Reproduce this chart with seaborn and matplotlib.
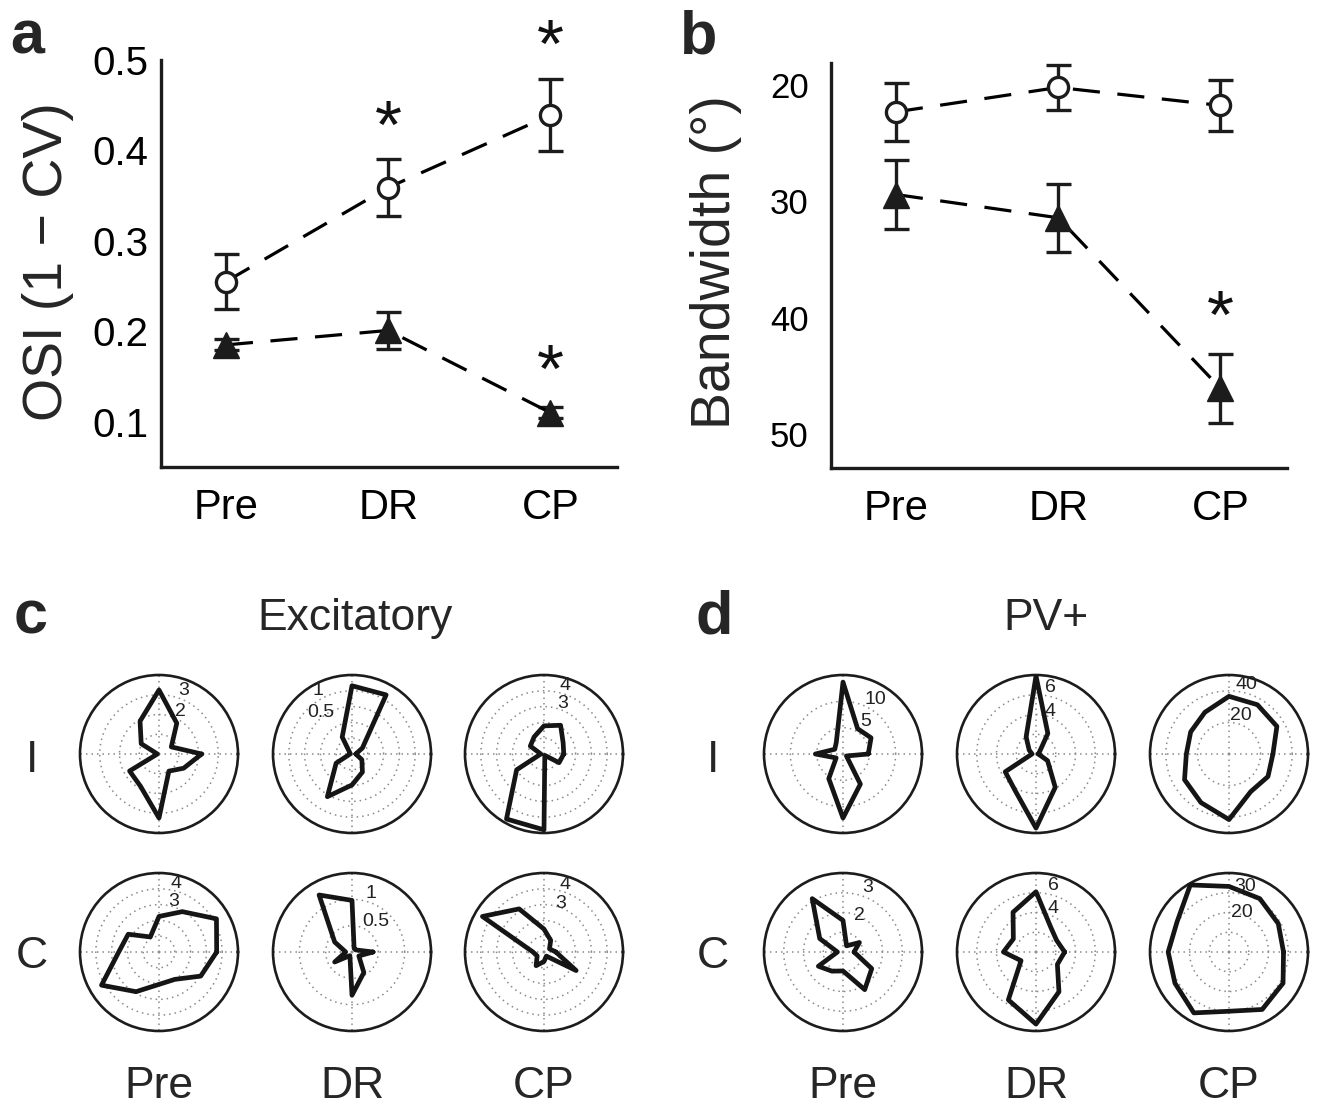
import numpy as np
import matplotlib
matplotlib.use('Agg')
import matplotlib.pyplot as plt
import seaborn as sns

# ---------------- data ----------------
conditions = ['Pre', 'DR', 'CP']

osi_open = [0.255, 0.359, 0.439]
osi_open_err = [0.030, 0.031, 0.040]
osi_filled = [0.185, 0.201, 0.110]
osi_filled_err = [0.006, 0.020, 0.006]
osi_ticks = [0.1, 0.2, 0.3, 0.4, 0.5]

bw_open = [22.3, 20.2, 21.75]
bw_open_err = [2.5, 1.9, 2.15]
bw_filled = [29.4, 31.4, 46.05]
bw_filled_err = [3.0, 2.9, 2.95]
bw_ticks = [20, 25, 30, 35, 40, 45, 50]
bw_tick_labels = ['20', '', '30', '', '40', '', '50']

# significance marks: (condition index, value)
osi_stars = [(1, 0.441), (2, 0.530), (2, 0.171)]
bw_stars = [(2, 38.8)]

directions_deg = [0, 30, 60, 90, 120, 150, 180, 210, 240, 270, 300, 330]

exc_pre_I = [2.16, 0.72, 1.8, 3.24, 1.92, 1.04, 0.08, 1.72, 1.88, 3.24, 1.0, 1.44]
exc_dr_I = [0.06, 0.19, 1.08, 1.08, 0.31, 0.04, 0.03, 0.29, 0.78, 0.49, 0.33, 0.18]
exc_cp_I = [1.25, 1.4, 2.1, 1.78, 1.25, 1.0, 0.2, 2.0, 4.75, 4.8, 0.1, 1.1]
exc_pre_C = [3.65, 4.2, 2.95, 2.25, 1.1, 2.25, 2.55, 4.2, 2.9, 2.05, 2.0, 3.05]
exc_dr_C = [0.4, 0.08, 0.08, 0.98, 1.25, 0.38, 0.12, 0.38, 0.08, 0.82, 0.45, 0.15]
exc_cp_C = [0.75, 0.4, 0.85, 1.45, 3.15, 4.5, 0.7, 0.5, 1.0, 0.6, 0.3, 2.35]

pv_pre_I = [4.8, 6.15, 5.55, 13.65, 2.55, 1.8, 5.25, 1.5, 5.4, 12.15, 6.6, 0.75]
pv_dr_I = [0.24, 0.4, 2.4, 7.9, 2.0, 0.8, 0.4, 3.6, 4.25, 7.5, 3.9, 1.35]
pv_cp_I = [27.8, 35, 36, 36.5, 30.5, 28, 27, 32.5, 35.5, 41.5, 27.5, 28.5]
pv_pre_C = [0.56, 0.96, 0.36, 1.6, 3.12, 1.36, 0.28, 1.44, 1.12, 0.96, 2.2, 1.68]
pv_dr_C = [2.9, 2.4, 2.95, 6.1, 4.65, 2.65, 3.3, 1.75, 5.6, 7.3, 4.65, 2.5]
pv_cp_C = [27.6, 28.8, 31.2, 33.2, 39.2, 30.4, 30.8, 31.6, 35.6, 30, 33.6, 31.6]

# radial scales: (rmax, ring values, labelled rings)
exc_pre_I_scale = (4, [1, 2, 3], ['3', '2'])
exc_dr_I_scale = (1.25, [0.25, 0.5, 0.75, 1.0], ['1', '0.5'])
exc_cp_I_scale = (5, [1, 2, 3, 4], ['4', '3'])
exc_pre_C_scale = (5, [1, 2, 3, 4], ['4', '3'])
exc_dr_C_scale = (1.5, [0.5, 1.0], ['1', '0.5'])
exc_cp_C_scale = (5, [1, 2, 3, 4], ['4', '3'])
pv_pre_I_scale = (15, [5, 10], ['10', '5'])
pv_dr_I_scale = (8, [2, 4, 6], ['6', '4'])
pv_cp_I_scale = (50, [20, 40], ['40', '20'])
pv_pre_C_scale = (4, [1, 2, 3], ['3', '2'])
pv_dr_C_scale = (8, [2, 4, 6], ['6', '4'])
pv_cp_C_scale = (40, [10, 20, 30], ['30', '20'])

# ---------------- style ----------------
sns.set_theme(style='white')
plt.rcParams['font.family'] = ['Liberation Sans', 'DejaVu Sans']
INK = '#1c1c1c'

W, H = 1324, 1110
fig = plt.figure(figsize=(W / 100, H / 100), dpi=100)


def add_px_axes(left, top, right, bottom, **kw):
    return fig.add_axes([left / W, 1 - bottom / H, (right - left) / W, (bottom - top) / H], **kw)


def px_text(x, y, s, **kw):
    fig.text(x / W, 1 - y / H, s, **kw)


x_pos = np.arange(len(conditions))
DASH = (0, (8.5, 5.5))
STAR_FS = 50


def star(ax, xi, yv):
    # the '*' glyph sits above the baseline; shift it so it is centred on the value
    ax.annotate('*', xy=(x_pos[xi], yv), xytext=(0, -0.49 * STAR_FS),
                textcoords='offset points', ha='center', va='baseline',
                fontsize=STAR_FS, color='#111111', annotation_clip=False)


def line_panel(ax, open_v, open_e, fill_v, fill_e):
    for vals, errs in ((open_v, open_e), (fill_v, fill_e)):
        ax.errorbar(x_pos, vals, yerr=errs, fmt='none', ecolor=INK, elinewidth=2.4,
                    capsize=9, capthick=2.4, zorder=2)
    sns.lineplot(x=x_pos, y=open_v, ax=ax, color='black', lw=2.3, linestyle=DASH,
                 marker='o', markersize=14.5, markerfacecolor='white',
                 markeredgecolor=INK, markeredgewidth=2.4, zorder=3,
                 sort=False, estimator=None)
    sns.lineplot(x=x_pos, y=fill_v, ax=ax, color='black', lw=2.3, linestyle=DASH,
                 marker='^', markersize=19, markerfacecolor=INK,
                 markeredgecolor=INK, markeredgewidth=1.0, zorder=3,
                 sort=False, estimator=None)
    ax.set_xlim(-0.4, 2.41)
    ax.set_xticks(x_pos)
    ax.set_xticklabels(conditions)
    for s in ('top', 'right'):
        ax.spines[s].set_visible(False)
    for s in ('left', 'bottom'):
        ax.spines[s].set_linewidth(2.4)
        ax.spines[s].set_color(INK)
    ax.tick_params(direction='in', length=7, width=2.2, color=INK, labelcolor='black')
    ax.tick_params(axis='x', labelsize=30, pad=15)
    ax.set_xlabel('')
    ax.set_ylabel('')
    ax.set_facecolor('white')


# ---------------- panel a ----------------
ax_a = add_px_axes(161, 60, 617, 467)
line_panel(ax_a, osi_open, osi_open_err, osi_filled, osi_filled_err)
ax_a.set_ylim(0.05, 0.5)
ax_a.set_yticks(osi_ticks)
ax_a.set_yticklabels([f'{v:.1f}' for v in osi_ticks])
ax_a.tick_params(axis='y', labelsize=29, pad=9)
for xi, yv in osi_stars:
    star(ax_a, xi, yv)

# ---------------- panel b ----------------
ax_b = add_px_axes(831, 63, 1287, 468)
line_panel(ax_b, bw_open, bw_open_err, bw_filled, bw_filled_err)
ax_b.set_ylim(52.9, 18.1)
ax_b.set_yticks(bw_ticks)
ax_b.set_yticklabels(bw_tick_labels)
ax_b.tick_params(axis='y', labelsize=25, pad=16)
for xi, yv in bw_stars:
    star(ax_b, xi, yv)

px_text(48, 262, 'OSI (1 \u2212 CV)', rotation=90, ha='center', va='center', fontsize=40)
px_text(716, 262, 'Bandwidth (\u00b0)', rotation=90, ha='center', va='center', fontsize=40)

# ---------------- polar panels ----------------
theta = np.deg2rad(directions_deg)
R_PX = 79
col_x_exc = [159, 352, 544]
col_x_pv = [843, 1036, 1229]
row_y = [754, 952]

# ring-label placement (angle deg, fraction of rmax) for the two labelled rings
label_pos = {
    'exc_pre_I': [(69, 0.86), (63, 0.60)],
    'exc_dr_I': [(118, 0.91), (127, 0.66)],
    'exc_cp_I': [(73, 0.91), (70, 0.68)],
    'exc_pre_C': [(76, 0.89), (73.6, 0.66)],
    'exc_dr_C': [(72, 0.78), (52, 0.49)],
    'exc_cp_C': [(73, 0.90), (70.6, 0.65)],
    'pv_pre_I': [(59, 0.80), (54.5, 0.50)],
    'pv_dr_I': [(78, 0.86), (72, 0.57)],
    'pv_cp_I': [(76, 0.91), (73, 0.51)],
    'pv_pre_C': [(69, 0.87), (66, 0.51)],
    'pv_dr_C': [(75, 0.87), (68, 0.59)],
    'pv_cp_C': [(76, 0.85), (72, 0.53)],
}

polar_sets = [
    ('exc_pre_I', exc_pre_I, exc_pre_I_scale, col_x_exc[0], row_y[0]),
    ('exc_dr_I', exc_dr_I, exc_dr_I_scale, col_x_exc[1], row_y[0]),
    ('exc_cp_I', exc_cp_I, exc_cp_I_scale, col_x_exc[2], row_y[0]),
    ('exc_pre_C', exc_pre_C, exc_pre_C_scale, col_x_exc[0], row_y[1]),
    ('exc_dr_C', exc_dr_C, exc_dr_C_scale, col_x_exc[1], row_y[1]),
    ('exc_cp_C', exc_cp_C, exc_cp_C_scale, col_x_exc[2], row_y[1]),
    ('pv_pre_I', pv_pre_I, pv_pre_I_scale, col_x_pv[0], row_y[0]),
    ('pv_dr_I', pv_dr_I, pv_dr_I_scale, col_x_pv[1], row_y[0]),
    ('pv_cp_I', pv_cp_I, pv_cp_I_scale, col_x_pv[2], row_y[0]),
    ('pv_pre_C', pv_pre_C, pv_pre_C_scale, col_x_pv[0], row_y[1]),
    ('pv_dr_C', pv_dr_C, pv_dr_C_scale, col_x_pv[1], row_y[1]),
    ('pv_cp_C', pv_cp_C, pv_cp_C_scale, col_x_pv[2], row_y[1]),
]

for name, vals, (rmax, rings, ring_labels), cx, cy in polar_sets:
    ax = add_px_axes(cx - R_PX, cy - R_PX, cx + R_PX, cy + R_PX, projection='polar')
    ax.set_facecolor('white')
    th = np.append(theta, theta[0] + 2 * np.pi)
    rr = np.append(vals, vals[0])
    sns.lineplot(x=th, y=rr, ax=ax, sort=False, estimator=None, color='#151515',
                 lw=3.4, zorder=4)
    ax.set_xlim(0, 2 * np.pi)
    ax.set_ylim(0, rmax)
    ax.set_thetagrids([0, 90, 180, 270], labels=['', '', '', ''])
    ax.set_rgrids(rings, labels=[''] * len(rings))
    ax.grid(True, color='#8a8a8a', linestyle=(0, (1, 2.6)), linewidth=1.1)
    ax.spines['polar'].set_linewidth(1.9)
    ax.spines['polar'].set_color(INK)
    ax.set_xlabel('')
    ax.set_ylabel('')
    ax.tick_params(pad=0)
    for lab, (ang, frac) in zip(ring_labels, label_pos[name]):
        ax.text(np.deg2rad(ang), frac * rmax, lab, ha='center', va='center',
                fontsize=14, color='#222222', zorder=5)

# ---------------- text labels ----------------
px_text(10, 53, 'a', fontsize=44, fontweight='bold', ha='left', va='baseline')
px_text(680, 53, 'b', fontsize=44, fontweight='bold', ha='left', va='baseline')
px_text(14, 634, 'c', fontsize=44, fontweight='bold', ha='left', va='baseline')
px_text(696, 634, 'd', fontsize=44, fontweight='bold', ha='left', va='baseline')

px_text(355, 630, 'Excitatory', fontsize=32, ha='center', va='baseline')
px_text(1046, 630, 'PV+', fontsize=32, ha='center', va='baseline')

for x0 in (32, 713):
    px_text(x0, 772, 'I', fontsize=32, ha='center', va='baseline')
    px_text(x0, 968, 'C', fontsize=32, ha='center', va='baseline')

for cols in (col_x_exc, col_x_pv):
    for cx, lab in zip(cols, conditions):
        px_text(cx, 1098, lab, fontsize=32, ha='center', va='baseline')

fig.savefig('out.png', dpi=100, facecolor='white')
